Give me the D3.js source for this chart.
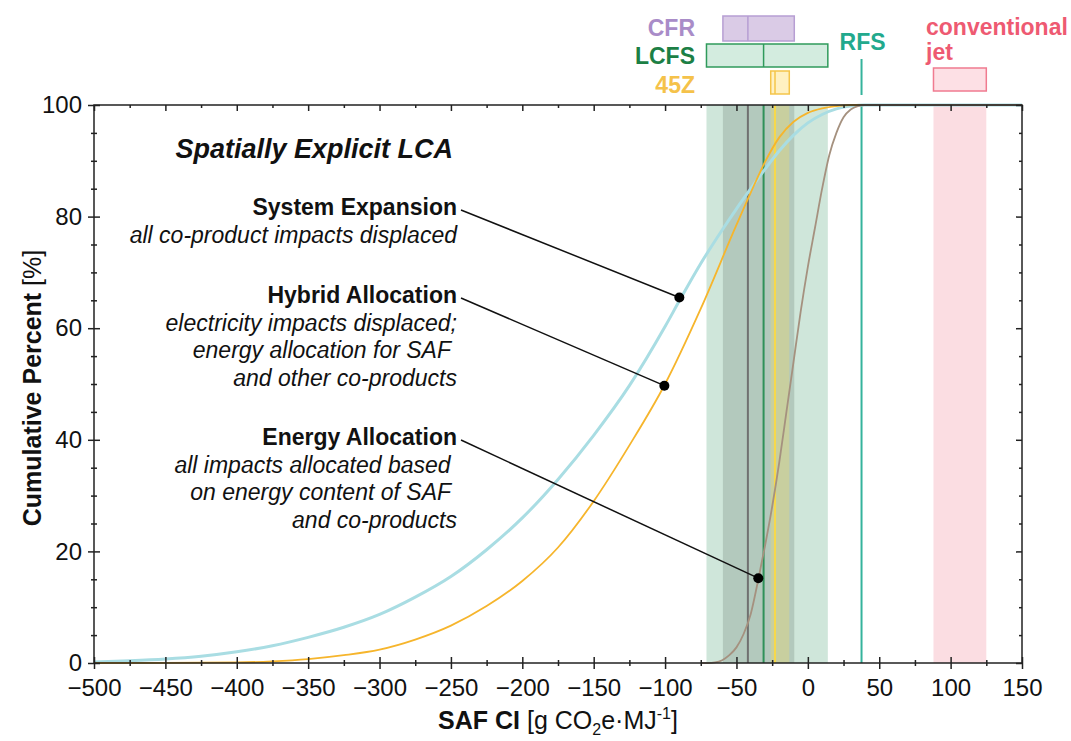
<!DOCTYPE html>
<html><head><meta charset="utf-8">
<script src="https://cdn.jsdelivr.net/npm/d3@7"></script>
<style>
body{margin:0;background:#fff}
text{font-family:"Liberation Sans",Arial,Helvetica,sans-serif;white-space:pre}
</style>
</head><body>
<svg id="chart" width="1071" height="741"></svg>
<script>
// ---------- data ----------
const xTicks = [-500,-450,-400,-350,-300,-250,-200,-150,-100,-50,0,50,100,150];
const yTicks = [0,20,40,60,80,100];

// cumulative distributions [SAF CI, cumulative %]
const systemExpansion = [[-500,0.2],[-475,0.4],[-450,0.7],[-425,1.2],[-400,2.0],[-375,3.1],[-350,4.6],[-325,6.4],[-300,8.7],[-275,11.8],[-250,15.5],[-225,20.3],[-200,26.0],[-175,32.9],[-150,40.8],[-125,49.7],[-100,60.3],[-90,64.9],[-75,71.6],[-60,77.6],[-50,81.4],[-40,85.0],[-30,88.5],[-20,91.8],[-10,94.6],[0,96.8],[10,98.3],[20,99.3],[30,99.8],[40,100],[150,100]];
const hybridAllocation = [[-500,0],[-450,0.02],[-400,0.1],[-375,0.3],[-350,0.7],[-325,1.4],[-300,2.4],[-275,4.2],[-250,6.7],[-225,10.2],[-200,14.7],[-175,20.7],[-150,29.0],[-125,39.0],[-100,50.0],[-75,63.5],[-50,78.5],[-40,84.3],[-30,89.8],[-20,94.2],[-10,97.0],[0,98.6],[10,99.4],[20,99.8],[30,100],[150,100]];
const energyAllocation = [[-75,0],[-70,0],[-65,0.1],[-60,0.5],[-55,1.4],[-50,2.8],[-45,5.2],[-40,8.8],[-35,14.6],[-30,21],[-25,28],[-20,36],[-15,45],[-10,54],[-5,63],[0,71],[5,78],[10,85],[15,91],[20,95],[25,97.8],[30,99.2],[35,99.8],[40,100],[150,100]];

// policy thresholds [low, high], centre
const cfrRange = [-59.5,-9.5];  const cfrCenter = -42;
const lcfsRange = [-71,14];     const lcfsCenter = -31;
const z45Range = [-26,-13];     const z45Center = -23;
const rfsValue = 37.6;
const jetRange = [88,125];

// annotated points
const markerNames = ["System Expansion","Hybrid Allocation","Energy Allocation"];
const markerX = [-90,-100.5,-34.7];
const markerY = [65.5,49.7,15.2];
const markerNotes = [
  ["all co-product impacts displaced"],
  ["electricity impacts displaced;","energy allocation for SAF ","and other co-products"],
  ["all impacts allocated based ","on energy content of SAF ","and co-products"]
];

// ---------- chart ----------
const svg = d3.select("#chart");
const L=94, R=1022, T=105, B=663;
const x = d3.scaleLinear().domain([-500,150]).range([L,R]);
const y = d3.scaleLinear().domain([0,100]).range([B,T]);

// bands
const bands = svg.append("g");
bands.append("rect").attr("x",x(lcfsRange[0])).attr("width",x(lcfsRange[1])-x(lcfsRange[0]))
  .attr("y",T).attr("height",B-T).attr("fill","#cfe6da");
bands.append("rect").attr("x",x(cfrRange[0])).attr("width",x(cfrRange[1])-x(cfrRange[0]))
  .attr("y",T).attr("height",B-T).attr("fill","#b3c9bd");
bands.append("rect").attr("x",x(z45Range[0])).attr("width",x(z45Range[1])-x(z45Range[0]))
  .attr("y",T).attr("height",B-T).attr("fill","#c8cf9f");
bands.append("rect").attr("x",x(jetRange[0])).attr("width",x(jetRange[1])-x(jetRange[0]))
  .attr("y",T).attr("height",B-T).attr("fill","#fbdde2");

// vertical lines
const vl = [[cfrCenter,"#707070"],[lcfsCenter,"#2f9159"],[z45Center,"#f7d84a"],[rfsValue,"#35b39c"]];
svg.append("g").selectAll("line").data(vl).join("line")
  .attr("x1",d=>x(d[0])).attr("x2",d=>x(d[0])).attr("y1",T).attr("y2",B)
  .attr("stroke",d=>d[1]).attr("stroke-width",2);

// curves
const line = d3.line().x(d=>x(d[0])).y(d=>y(d[1])).curve(d3.curveMonotoneX);
svg.append("path").datum(systemExpansion).attr("d",line).attr("fill","none")
  .attr("stroke","#a9dde3").attr("stroke-width",3);
svg.append("path").datum(hybridAllocation).attr("d",line).attr("fill","none")
  .attr("stroke","#f6b52c").attr("stroke-width",1.8);
svg.append("path").datum(energyAllocation).attr("d",line).attr("fill","none")
  .attr("stroke","#a5917f").attr("stroke-width",1.8);

// axes
const fmt = d3.format("");
const minorX = d3.range(-500,151,25).filter(v=>v%50!==0);
const minorY = d3.range(0,101,5).filter(v=>v%20!==0);
function styleAxis(g){ g.select(".domain").remove(); g.selectAll("line").attr("stroke","#222").attr("stroke-width",1.5); g.selectAll("text").attr("font-size",24).attr("fill","#111"); }
// bottom
svg.append("g").attr("transform",`translate(0,${B})`)
  .call(d3.axisBottom(x).tickValues(xTicks).tickSize(6).tickPadding(10).tickFormat(fmt))
  .call(styleAxis).call(g=>g.selectAll("line").attr("y1",-6));
svg.append("g").attr("transform",`translate(0,${B})`)
  .call(d3.axisBottom(x).tickValues(minorX).tickSize(3).tickFormat(""))
  .call(styleAxis).call(g=>g.selectAll("line").attr("y1",-3));
// top
svg.append("g").attr("transform",`translate(0,${T})`)
  .call(d3.axisTop(x).tickValues(xTicks).tickSize(-6).tickFormat("")).call(styleAxis);
svg.append("g").attr("transform",`translate(0,${T})`)
  .call(d3.axisTop(x).tickValues(minorX).tickSize(-3).tickFormat("")).call(styleAxis);
// left
svg.append("g").attr("transform",`translate(${L},0)`)
  .call(d3.axisLeft(y).tickValues(yTicks).tickSize(6).tickPadding(6).tickFormat(fmt))
  .call(styleAxis).call(g=>g.selectAll("line").attr("x1",6));
svg.append("g").attr("transform",`translate(${L},0)`)
  .call(d3.axisLeft(y).tickValues(minorY).tickSize(3).tickFormat(""))
  .call(styleAxis).call(g=>g.selectAll("line").attr("x1",3));
// right
svg.append("g").attr("transform",`translate(${R},0)`)
  .call(d3.axisRight(y).tickValues(yTicks).tickSize(-6).tickFormat("")).call(styleAxis);
svg.append("g").attr("transform",`translate(${R},0)`)
  .call(d3.axisRight(y).tickValues(minorY).tickSize(-3).tickFormat("")).call(styleAxis);
svg.selectAll("text").attr("font-family",null);
// frame
svg.append("rect").attr("x",L).attr("y",T).attr("width",R-L).attr("height",B-T)
  .attr("fill","none").attr("stroke","#222").attr("stroke-width",1.5);

// axis titles
const xt = svg.append("text").attr("x",(L+R)/2).attr("y",729).attr("text-anchor","middle")
  .attr("font-size",25).attr("fill","#111");
xt.append("tspan").attr("font-weight","bold").text("SAF CI ");
xt.append("tspan").text("[g CO");
xt.append("tspan").attr("font-size",16).attr("dy",6).text("2");
xt.append("tspan").attr("dy",-6).text("e·MJ");
xt.append("tspan").attr("font-size",16).attr("dy",-10).text("-1");
xt.append("tspan").attr("dy",10).text("]");

const yt = svg.append("text").attr("transform",`translate(41,${(T+B)/2 + 4}) rotate(-90)`)
  .attr("text-anchor","middle").attr("font-size",25).attr("fill","#111");
yt.append("tspan").attr("font-weight","bold").text("Cumulative Percent ");
yt.append("tspan").text("[%]");

// annotations
const ann = svg.append("g");
const labelRight = 457;
ann.append("text").attr("x",453).attr("y",158).attr("text-anchor","end")
  .attr("font-size",27).attr("font-weight","bold").attr("font-style","italic").attr("fill","#111")
  .text("Spatially Explicit LCA");
const headBase = [215,303,445];
markerNames.forEach((name,i)=>{
  ann.append("text").attr("x",labelRight).attr("y",headBase[i]).attr("text-anchor","end")
    .attr("font-size",23).attr("font-weight","bold").attr("fill","#111").text(name);
  markerNotes[i].forEach((t,j)=>{
    ann.append("text").attr("x",labelRight).attr("y",headBase[i]+27.7*(j+1)).attr("text-anchor","end")
      .attr("font-size",23).attr("font-style","italic").attr("fill","#111").text(t);
  });
  ann.append("line").attr("x1",labelRight+4).attr("y1",headBase[i]-5)
    .attr("x2",x(markerX[i])).attr("y2",y(markerY[i])).attr("stroke","#111").attr("stroke-width",1.5);
  ann.append("circle").attr("cx",x(markerX[i])).attr("cy",y(markerY[i])).attr("r",5).attr("fill","#000");
});

// top legend
const lg = svg.append("g");
function legendBox(range, center, y0, y1, fill, stroke){
  lg.append("rect").attr("x",x(range[0])).attr("width",x(range[1])-x(range[0]))
    .attr("y",y0).attr("height",y1-y0).attr("fill",fill).attr("stroke",stroke).attr("stroke-width",1.5);
  lg.append("line").attr("x1",x(center)).attr("x2",x(center)).attr("y1",y0).attr("y2",y1)
    .attr("stroke",stroke).attr("stroke-width",1.5);
}
legendBox(cfrRange,cfrCenter,16,41,"#dacbe6","#b79ed3");
legendBox(lcfsRange,lcfsCenter,44,67,"#d3ecdf","#2f9a5b");
legendBox(z45Range,z45Center,71,94,"#fff1c2","#f5c54a");
lg.append("rect").attr("x",x(jetRange[0])).attr("width",x(jetRange[1])-x(jetRange[0]))
  .attr("y",68).attr("height",23).attr("fill","#fde0e5").attr("stroke","#f07b90").attr("stroke-width",1.5);
lg.append("line").attr("x1",x(rfsValue)).attr("x2",x(rfsValue)).attr("y1",59).attr("y2",95)
  .attr("stroke","#35b39c").attr("stroke-width",2);
const lt = (tx,ty,anchor,color,str)=>lg.append("text").attr("x",tx).attr("y",ty).attr("text-anchor",anchor)
  .attr("font-size",23).attr("font-weight","bold").attr("fill",color).text(str);
lt(695,36,"end","#a98cc8","CFR");
lt(695,64,"end","#1c7f45","LCFS");
lt(695,93,"end","#f5c24a","45Z");
lt(x(rfsValue)+1,50,"middle","#22a98d","RFS");
lt(926,35,"start","#ee5a72","conventional");
lt(926,60,"start","#ee5a72","jet");
</script>
</body></html>
